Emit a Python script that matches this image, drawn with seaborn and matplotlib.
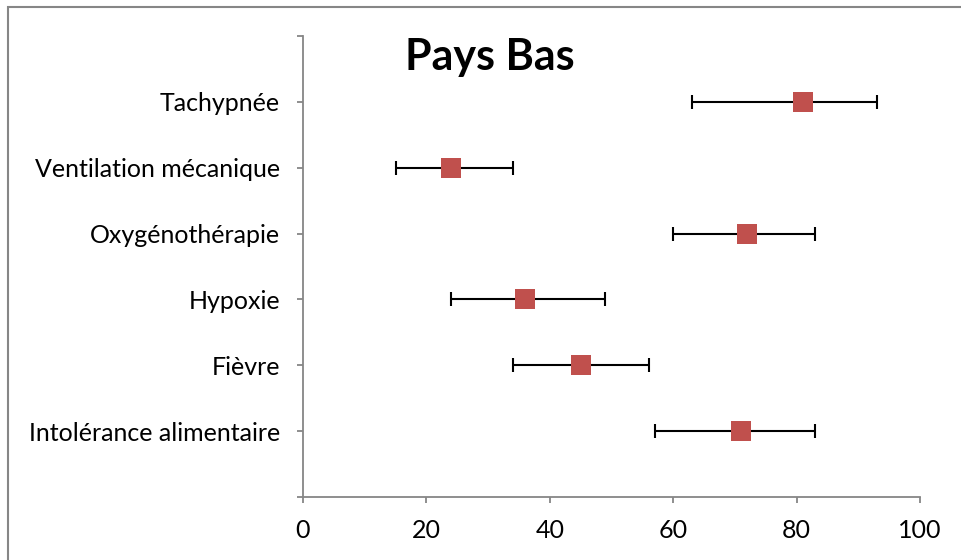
import matplotlib
matplotlib.use("Agg")
import matplotlib.pyplot as plt
import seaborn as sns
import pandas as pd
from matplotlib.patches import Rectangle

categories = ["Intolérance alimentaire", "Fièvre", "Hypoxie", "Oxygénothérapie",
              "Ventilation mécanique", "Tachypnée"]
values = [71, 45, 36, 72, 24, 81]
lower = [57, 34, 24, 60, 15, 63]
upper = [83, 56, 49, 83, 34, 93]
x_ticks = [0, 20, 40, 60, 80, 100]
title = "Pays Bas"

sns.set_theme(style="white")
plt.rcParams['font.family'] = ['Lato', 'DejaVu Sans']

df = pd.DataFrame({"cat": categories, "val": values, "lo": lower, "hi": upper})
df["pos"] = range(1, len(categories) + 1)

fig = plt.figure(figsize=(9.61, 5.60), dpi=100)
ax = fig.add_axes([303/961, 1 - 497/560, (920 - 303)/961, (497 - 36)/560])

ax.errorbar(df["val"], df["pos"],
            xerr=[df["val"] - df["lo"], df["hi"] - df["val"]],
            fmt="none", ecolor="black", elinewidth=1.5, capsize=5, capthick=1.5, zorder=2)
sns.scatterplot(data=df, x="val", y="pos", marker="s", s=225, color="#C0504D",
                edgecolor="#C0504D", linewidth=0, ax=ax, zorder=3)

ax.set_xlim(0, 100)
ax.set_ylim(0, 7)
ax.set_xticks(x_ticks)
ax.set_xticklabels([str(t) for t in x_ticks])
ax.set_yticks(range(0, 8))
ax.set_yticklabels([""] + categories + [""])
ax.set_xlabel("")
ax.set_ylabel("")
for s in ["top", "right"]:
    ax.spines[s].set_visible(False)
for s in ["left", "bottom"]:
    ax.spines[s].set_color("#868686")
    ax.spines[s].set_linewidth(1.3)
ax.tick_params(axis="both", which="both", bottom=True, left=True, length=4.5, width=1.3,
               color="#868686", labelsize=18, labelcolor="black", direction="out")
ax.tick_params(axis="y", pad=12)
ax.tick_params(axis="x", pad=11)

ax.text(0.303, 0.955, title, transform=ax.transAxes, ha="center", va="center",
        fontsize=31, fontweight="bold", color="black")

fig.patches.append(Rectangle((8/961, -0.1), 1.2, 1 - 7/560 + 0.1, transform=fig.transFigure,
                             fill=False, edgecolor="#868686", linewidth=1.5))

fig.savefig("out.png", dpi=100)
